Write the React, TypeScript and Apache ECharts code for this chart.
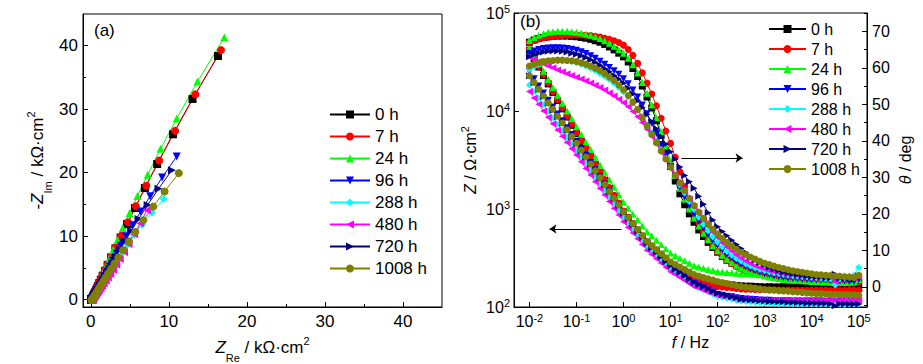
import React, { useEffect, useRef } from 'react';
import * as echarts from 'echarts';

// Frequencies (Hz), 10 points per decade
const FREQ = [
  0.01, 0.0126, 0.0158, 0.02, 0.0251, 0.0316, 0.0398, 0.0501, 0.0631, 0.0794,
  0.1, 0.126, 0.158, 0.2, 0.251, 0.316, 0.398, 0.501, 0.631, 0.794,
  1, 1.26, 1.58, 2, 2.51, 3.16, 3.98, 5.01, 6.31, 7.94,
  10, 12.6, 15.8, 20, 25.1, 31.6, 39.8, 50.1, 63.1, 79.4,
  100, 126, 158, 200, 251, 316, 398, 501, 631, 794,
  1000, 1260, 1580, 2000, 2510, 3160, 3980, 5010, 6310, 7940,
  10000, 12600, 15800, 20000, 25100, 31600, 39800, 50100, 63100, 79400,
  100000,
];

// |Z| in Ohm·cm2
const MOD_0H = [
  41700, 34200, 28100, 23000, 18900, 15500, 12800, 10500, 8670, 7140,
  5890, 4900, 4070, 3390, 2820, 2340, 1950, 1620, 1350, 1120,
  933, 809, 702, 608, 527, 457, 411, 370, 333, 299,
  269, 254, 239, 225, 212, 200, 194, 189, 184, 179,
  174, 172, 170, 168, 166, 164, 163, 163, 162, 161,
  160, 161, 160, 160, 161, 160, 159, 160, 160, 159,
  159, 158, 158, 157, 157, 157, 156, 156, 155, 155,
  155,
];
const MOD_7H = [
  42700, 35000, 28700, 23600, 19300, 15800, 13100, 10800, 8870, 7310,
  6030, 5010, 4170, 3470, 2880, 2400, 2000, 1660, 1380, 1150,
  955, 824, 711, 614, 530, 457, 409, 366, 328, 294,
  263, 247, 231, 217, 203, 191, 185, 179, 173, 167,
  162, 160, 158, 157, 155, 153, 152, 152, 151, 150,
  150, 149, 149, 149, 148, 149, 148, 148, 148, 148,
  148, 148, 148, 148, 147, 148, 148, 147, 148, 148,
  148,
];
const MOD_24H = [
  44700, 37000, 30600, 25400, 21000, 17400, 14500, 12000, 10000, 8320,
  6920, 5780, 4830, 4040, 3370, 2820, 2370, 1990, 1670, 1400,
  1170, 1020, 891, 776, 676, 589, 532, 481, 435, 393,
  355, 334, 315, 296, 279, 263, 256, 249, 242, 236,
  229, 227, 225, 223, 221, 219, 218, 217, 216, 215,
  214, 213, 213, 212, 212, 211, 211, 210, 210, 209,
  209, 209, 209, 209, 208, 209, 209, 208, 209, 209,
  209,
];
const MOD_96H = [
  25100, 21300, 18000, 15300, 12900, 11000, 9330, 7940, 6760, 5750,
  4900, 4150, 3520, 2980, 2520, 2140, 1800, 1520, 1280, 1080,
  912, 787, 679, 586, 506, 437, 391, 350, 313, 281,
  251, 233, 217, 201, 187, 174, 165, 157, 149, 142,
  135, 132, 129, 127, 124, 122, 121, 120, 119, 118,
  117, 117, 116, 116, 116, 116, 115, 115, 115, 115,
  115, 115, 115, 114, 115, 113, 115, 114, 115, 115,
  115,
];
const MOD_288H = [
  18400, 15800, 13500, 11600, 9930, 8510, 7310, 6280, 5400, 4630,
  3980, 3400, 2910, 2490, 2130, 1820, 1560, 1330, 1140, 973,
  832, 724, 631, 550, 479, 417, 375, 337, 303, 273,
  245, 227, 210, 194, 179, 166, 158, 150, 143, 136,
  129, 126, 123, 120, 117, 115, 114, 113, 112, 111,
  110, 109, 109, 108, 108, 108, 107, 107, 107, 107,
  107, 107, 107, 107, 106, 107, 107, 106, 107, 107,
  108,
];
const MOD_480H = [
  15800, 13600, 11700, 10000, 8630, 7410, 6400, 5520, 4760, 4110,
  3550, 3030, 2590, 2220, 1900, 1620, 1390, 1190, 1010, 867,
  741, 649, 568, 497, 435, 380, 344, 310, 281, 254,
  229, 214, 200, 186, 174, 162, 156, 149, 143, 137,
  132, 129, 127, 125, 122, 120, 120, 119, 119, 118,
  117, 117, 117, 118, 117, 117, 118, 117, 117, 117,
  117, 117, 117, 118, 117, 116, 117, 118, 117, 117,
  117,
];
const MOD_720H = [
  22900, 19500, 16600, 14100, 12000, 10200, 8750, 7480, 6400, 5470,
  4680, 3980, 3390, 2880, 2450, 2090, 1770, 1500, 1270, 1080,
  912, 791, 685, 594, 515, 447, 402, 361, 325, 292,
  263, 243, 225, 208, 192, 178, 169, 161, 153, 145,
  138, 134, 131, 127, 124, 120, 119, 118, 117, 116,
  115, 114, 114, 113, 113, 112, 112, 111, 111, 110,
  110, 110, 109, 109, 108, 103, 108, 108, 107, 107,
  107,
];
const MOD_1008H = [
  22900, 19500, 16700, 14200, 12100, 10400, 8830, 7530, 6430, 5480,
  4680, 3980, 3390, 2880, 2450, 2090, 1780, 1510, 1290, 1100,
  933, 813, 708, 617, 537, 468, 425, 385, 350, 318,
  288, 272, 256, 241, 227, 214, 207, 200, 194, 188,
  182, 178, 174, 170, 166, 162, 160, 158, 156, 153,
  151, 150, 149, 147, 146, 145, 143, 142, 141, 139,
  138, 137, 137, 136, 135, 135, 134, 134, 133, 133,
  132,
];

// Phase angle theta (deg)
const PHASE_0H = [
  67, 67.6, 68, 68.3, 68.5, 68.6, 68.7, 68.7, 68.7, 68.6,
  68.5, 68.3, 68.1, 67.8, 67.4, 67, 66.4, 65.7, 64.9, 64,
  63, 61.6, 59.8, 57.6, 55, 52, 49, 45.5, 41.5, 37.3,
  33, 29, 25.5, 22.5, 20, 17.7, 15.6, 13.8, 12.2, 10.8,
  9.5, 8.3, 7.3, 6.5, 5.8, 5.2, 4.7, 4.3, 3.9, 3.6,
  3.3, 3.0, 2.8, 2.6, 2.4, 2.2, 2.0, 1.9, 1.8, 1.7,
  1.6, 1.5, 1.4, 1.3, 1.2, 1.3, 1.1, 1.0, 1.0, 0.9,
  1.2,
];
const PHASE_7H = [
  67, 67.5, 67.9, 68.2, 68.4, 68.6, 68.7, 68.8, 68.9, 69,
  69, 69, 68.9, 68.8, 68.6, 68.4, 68.1, 67.8, 67.4, 66.9,
  66.2, 65, 63.4, 61.2, 58.6, 55.8, 52.8, 49.6, 46.2, 42.7,
  39.3, 35.5, 31.5, 27.5, 23.8, 20.5, 17.6, 15.1, 13, 11.2,
  9.7, 8.4, 7.3, 6.4, 5.7, 5.1, 4.6, 4.1, 3.7, 3.4,
  3.1, 2.8, 2.6, 2.4, 2.2, 2.0, 1.9, 1.8, 1.7, 1.6,
  1.5, 1.4, 1.3, 1.3, 1.2, 1.4, 1.1, 1.0, 1.0, 1.0,
  1.3,
];
const PHASE_24H = [
  67.5, 68.3, 68.9, 69.4, 69.7, 69.9, 70, 70, 70, 69.9,
  69.7, 69.5, 69.2, 68.9, 68.5, 68, 67.4, 66.7, 65.9, 65,
  64, 62.6, 60.8, 58.6, 56, 53, 49.8, 46.3, 42.5, 38.5,
  34.5, 30.5, 27, 24, 21.3, 18.9, 16.7, 14.7, 12.9, 11.3,
  9.9, 8.7, 7.6, 6.7, 5.9, 5.2, 4.6, 4.1, 3.7, 3.3,
  3.0, 2.7, 2.5, 2.3, 2.1, 2.0, 1.9, 1.8, 1.7, 1.6,
  1.5, 1.5, 1.4, 1.4, 1.3, 1.5, 1.3, 1.2, 1.3, 1.4,
  2.0,
];
const PHASE_96H = [
  64, 64.6, 65, 65.3, 65.4, 65.5, 65.5, 65.4, 65.3, 65.1,
  64.8, 64.4, 63.9, 63.3, 62.6, 61.8, 61, 60.1, 59.2, 58.2,
  57, 55.6, 53.9, 52, 49.8, 47.4, 44.8, 42, 39, 36,
  33, 30, 27.2, 24.6, 22.2, 20, 18, 16.1, 14.4, 12.8,
  11.4, 10.1, 8.9, 7.9, 7, 6.2, 5.5, 4.9, 4.4, 4,
  3.6, 3.3, 3.0, 2.8, 2.6, 2.4, 2.3, 2.2, 2.1, 2.0,
  1.9, 1.9, 1.8, 1.8, 1.7, 2.5, 1.6, 1.6, 1.5, 1.5,
  2.0,
];
const PHASE_288H = [
  59.5, 60.3, 60.9, 61.4, 61.7, 61.9, 62, 62, 61.9, 61.7,
  61.4, 61, 60.5, 59.9, 59.2, 58.4, 57.6, 56.7, 55.7, 54.6,
  53.4, 52, 50.4, 48.6, 46.6, 44.5, 42.3, 40, 37.6, 35.2,
  32.8, 30.4, 28, 25.7, 23.4, 21.2, 19.1, 17.1, 15.3, 13.7,
  12.2, 10.9, 9.7, 8.7, 7.8, 7, 6.3, 5.7, 5.2, 4.8,
  4.4, 4.1, 3.8, 3.6, 3.4, 3.2, 3.0, 2.9, 2.8, 2.7,
  2.6, 2.5, 2.4, 2.3, 2.2, 0.5, 2.2, 2.3, 2.6, 3.2,
  5.3,
];
const PHASE_480H = [
  63, 62.3, 61.7, 61.1, 60.5, 60, 59.4, 58.9, 58.4, 57.9,
  57.4, 56.9, 56.4, 55.8, 55.2, 54.6, 53.9, 53.1, 52.3, 51.4,
  50.4, 49.3, 48, 46.6, 45, 43.2, 41.2, 39.1, 36.9, 34.7,
  32.5, 30.3, 28.1, 26, 24, 22, 20.1, 18.3, 16.6, 15,
  13.5, 12.1, 10.9, 9.8, 8.8, 7.9, 7.1, 6.4, 5.8, 5.3,
  4.9, 4.5, 4.2, 3.9, 3.7, 3.5, 3.3, 3.2, 3.1, 3.0,
  2.9, 2.8, 2.8, 2.7, 2.7, 1.5, 2.6, 2.6, 2.5, 2.5,
  2.8,
];
const PHASE_720H = [
  63, 63.6, 64, 64.3, 64.5, 64.6, 64.6, 64.5, 64.3, 64,
  63.7, 63.3, 62.8, 62.2, 61.5, 60.7, 59.8, 58.9, 57.9, 56.9,
  55.8, 54.4, 52.8, 51, 49.1, 47.2, 45.3, 43.3, 41.2, 39.1,
  37, 35, 32.8, 30.5, 28.8, 27, 24.8, 22.6, 20.3, 18.3,
  16.5, 15.2, 14, 12.8, 11.6, 10.5, 9.4, 8.4, 7.5, 6.7,
  6.0, 5.4, 4.9, 4.5, 4.1, 3.8, 3.6, 3.4, 3.2, 3.0,
  2.9, 2.8, 2.7, 2.6, 2.5, 3.5, 2.4, 2.3, 2.3, 2.2,
  3.0,
];
const PHASE_1008H = [
  60.5, 61, 61.4, 61.7, 61.9, 62, 62.1, 62.1, 62, 61.9,
  61.7, 61.4, 61, 60.5, 59.9, 59.2, 58.4, 57.5, 56.5, 55.3,
  54, 52.4, 50.6, 48.6, 46.4, 44.1, 41.8, 39.5, 37.2, 35,
  32.8, 30.6, 28.5, 26.4, 24.3, 22.3, 20.5, 18.8, 17.2, 15.8,
  14.5, 13.3, 12.2, 11.2, 10.3, 9.5, 8.8, 8.2, 7.6, 7.0,
  6.5, 6.1, 5.7, 5.3, 5.0, 4.7, 4.4, 4.2, 4.0, 3.8,
  3.6, 3.4, 3.3, 3.2, 3.1, 3.0, 2.9, 2.8, 2.7, 2.6,
  3.2,
];

const SERIES_NAMES = ['0 h', '7 h', '24 h', '96 h', '288 h', '480 h', '720 h', '1008 h'];
const MODULUS = [MOD_0H, MOD_7H, MOD_24H, MOD_96H, MOD_288H, MOD_480H, MOD_720H, MOD_1008H];
const PHASE = [PHASE_0H, PHASE_7H, PHASE_24H, PHASE_96H, PHASE_288H, PHASE_480H, PHASE_720H, PHASE_1008H];

const NYQ_TICKS = [0, 10, 20, 30, 40];
const NYQ_MINOR_TICKS = [5, 15, 25, 35];
const PHASE_TICKS = [0, 10, 20, 30, 40, 50, 60, 70];
const PHASE_MINOR_TICKS = [-5, 5, 15, 25, 35, 45, 55, 65, 75];

// Arrow annotations (data coordinates)
const ARROW_PHASE = { fromF: 17.1, toF: 340, theta: 35.3 };
const ARROW_MOD = { fromF: 0.906, toF: 0.0267, z: 625 };

const COLORS = ['#000000', '#ff0000', '#00ff00', '#0000ff', '#00ffff', '#ff00ff', '#000080', '#808000'];
const SYMBOLS = ['rect', 'circle', 'triangle', 'triangle', 'diamond', 'triangle', 'triangle', 'circle'];
const ROTATIONS = [0, 0, 0, 180, 0, 90, -90, 0];

const FONT = '"Liberation Sans", Arial, sans-serif';

function decadeLabel(v: number): string {
  const lg = Math.log10(v);
  const e = Math.round(lg);
  if (Math.abs(lg - e) > 0.02) return '';
  return '10{sup|' + (e < 0 ? '-' + Math.abs(e) : String(e)) + '}';
}

const tickRich = {
  sup: { fontSize: 11, fontFamily: FONT, color: '#000', verticalAlign: 'top', padding: [0, 0, 8, 0] },
};

const nameRichSubSup = {
  i: { fontSize: 17, fontFamily: FONT, fontStyle: 'italic', color: '#000' },
  sub: { fontSize: 11, fontFamily: FONT, color: '#000', verticalAlign: 'bottom', padding: [20, 0, 0, 0] },
  sup: { fontSize: 11, fontFamily: FONT, color: '#000', verticalAlign: 'top', padding: [3, 0, 0, 0] },
};
const nameRichSup = {
  i: { fontSize: 16, fontFamily: FONT, fontStyle: 'italic', color: '#000' },
  sup: { fontSize: 11, fontFamily: FONT, color: '#000', verticalAlign: 'top', padding: [0, 0, 12, 0] },
};

function makeSeries(name: string, k: number, xAxisIndex: number, yAxisIndex: number, data: number[][], size: number) {
  return {
    name,
    type: 'line',
    xAxisIndex,
    yAxisIndex,
    symbol: SYMBOLS[k],
    symbolSize: size,
    symbolRotate: ROTATIONS[k],
    showAllSymbol: true,
    color: COLORS[k],
    lineStyle: { color: COLORS[k], width: 1 },
    itemStyle: { color: COLORS[k] },
    silent: true,
    data,
  } as any;
}

function arrowMarkLine(from: number[], to: number[]) {
  return {
    silent: true,
    symbol: ['none', 'arrow'],
    symbolSize: 7,
    label: { show: false },
    lineStyle: { color: '#000', width: 1, type: 'solid' },
    data: [[{ coord: from }, { coord: to }]],
  };
}

function buildOption() {
  const black = { color: '#000', width: 1 };
  const series: any[] = [];

  // Nyquist: Z' = |Z|cos(theta), -Z'' = |Z|sin(theta), in kOhm·cm2
  SERIES_NAMES.forEach((name, k) => {
    const data = FREQ.map((_, i) => {
      const th = (PHASE[k][i] * Math.PI) / 180;
      return [(MODULUS[k][i] * Math.cos(th)) / 1000, (MODULUS[k][i] * Math.sin(th)) / 1000];
    });
    series.push(makeSeries(name, k, 0, 0, data, 8));
  });

  // Bode modulus
  SERIES_NAMES.forEach((name, k) => {
    const s = makeSeries(name, k, 1, 1, FREQ.map((f, i) => [f, MODULUS[k][i]]), 7);
    if (k === 0) s.markLine = arrowMarkLine([ARROW_MOD.fromF, ARROW_MOD.z], [ARROW_MOD.toF, ARROW_MOD.z]);
    series.push(s);
  });

  // Bode phase
  SERIES_NAMES.forEach((name, k) => {
    const s = makeSeries(name, k, 1, 2, FREQ.map((f, i) => [f, PHASE[k][i]]), 7);
    if (k === 0) s.markLine = arrowMarkLine([ARROW_PHASE.fromF, ARROW_PHASE.theta], [ARROW_PHASE.toF, ARROW_PHASE.theta]);
    series.push(s);
  });

  const gridA = { left: 83, top: 14, width: 359, height: 293 };
  const gridB = { left: 514, top: 13, width: 353, height: 294 };
  const axisLine = { show: true, onZero: false, lineStyle: black };

  return {
    animation: false,
    backgroundColor: '#ffffff',
    textStyle: { fontFamily: FONT },
    grid: [
      { ...gridA, show: true, borderColor: '#000', borderWidth: 1, backgroundColor: 'transparent', containLabel: false, outerBoundsMode: 'none' },
      { ...gridB, show: true, borderColor: '#000', borderWidth: 1, backgroundColor: 'transparent', containLabel: false, outerBoundsMode: 'none' },
      { ...gridA, show: false, containLabel: false, outerBoundsMode: 'none' },
      { ...gridB, show: false, containLabel: false, outerBoundsMode: 'none' },
    ],
    legend: [
      {
        data: SERIES_NAMES,
        orient: 'vertical',
        left: 324,
        top: 101,
        itemWidth: 40,
        itemHeight: 10,
        itemGap: 5,
        selectedMode: false,
        textStyle: { fontSize: 17, fontFamily: FONT, color: '#000' },
      },
      {
        data: SERIES_NAMES,
        orient: 'vertical',
        left: 763,
        top: 16,
        itemWidth: 37,
        itemHeight: 10,
        itemGap: 4,
        selectedMode: false,
        textStyle: { fontSize: 16, fontFamily: FONT, color: '#000' },
      },
    ],
    xAxis: [
      {
        gridIndex: 0,
        type: 'value',
        min: -1,
        max: 45,
        position: 'bottom',
        axisLine,
        axisTick: { show: true, inside: true, length: 5, customValues: NYQ_TICKS, lineStyle: black },
        axisLabel: { customValues: NYQ_TICKS, color: '#000', fontSize: 17, fontFamily: FONT, margin: 6 },
        splitLine: { show: false },
        name: '{i|Z}{sub|Re} / kΩ·cm{sup|2}',
        nameLocation: 'middle',
        nameGap: 25,
        nameTextStyle: { fontSize: 17, fontFamily: FONT, color: '#000', rich: nameRichSubSup },
      },
      {
        gridIndex: 1,
        type: 'log',
        logBase: 10,
        min: 0.0047,
        max: 150000,
        position: 'bottom',
        axisLine,
        axisTick: { show: true, inside: true, length: 5, lineStyle: black },
        axisLabel: { formatter: decadeLabel, color: '#000', fontSize: 16, fontFamily: FONT, margin: 5, rich: tickRich },
        splitLine: { show: false },
        minorTick: { show: false },
        name: '{i|f} / Hz',
        nameLocation: 'middle',
        nameGap: 27,
        nameTextStyle: { fontSize: 16, fontFamily: FONT, color: '#000', rich: nameRichSup },
      },
      {
        gridIndex: 2,
        type: 'value',
        min: -1,
        max: 45,
        axisLine: { show: false, onZero: false },
        axisTick: { show: true, inside: true, length: 3, customValues: NYQ_MINOR_TICKS, lineStyle: black },
        axisLabel: { show: false },
        splitLine: { show: false },
      },
      {
        gridIndex: 3,
        type: 'value',
        min: 0,
        max: 1,
        show: false,
      },
    ],
    yAxis: [
      {
        gridIndex: 0,
        type: 'value',
        min: -1.15,
        max: 45,
        position: 'left',
        axisLine,
        axisTick: { show: true, inside: true, length: 5, customValues: NYQ_TICKS, lineStyle: black },
        axisLabel: { customValues: NYQ_TICKS, color: '#000', fontSize: 17, fontFamily: FONT, margin: 5 },
        splitLine: { show: false },
        name: '-{i|Z}{sub|Im} / kΩ·cm{sup|2}',
        nameLocation: 'middle',
        nameRotate: 90,
        nameGap: 30,
        nameTextStyle: { fontSize: 17, fontFamily: FONT, color: '#000', rich: nameRichSubSup },
      },
      {
        gridIndex: 1,
        type: 'log',
        logBase: 10,
        min: 100,
        max: 100000,
        position: 'left',
        axisLine,
        axisTick: { show: true, inside: true, length: 5, lineStyle: black },
        axisLabel: { formatter: decadeLabel, color: '#000', fontSize: 16, fontFamily: FONT, margin: 4, rich: tickRich },
        splitLine: { show: false },
        minorTick: { show: false },
        name: '{i|Z} / Ω·cm{sup|2}',
        nameLocation: 'middle',
        nameRotate: 90,
        nameGap: 32,
        nameTextStyle: { fontSize: 16, fontFamily: FONT, color: '#000', rich: nameRichSup },
      },
      {
        gridIndex: 1,
        type: 'value',
        min: -5.5,
        max: 75,
        position: 'right',
        axisLine,
        axisTick: { show: true, inside: true, length: 5, customValues: PHASE_TICKS, lineStyle: black },
        axisLabel: { customValues: PHASE_TICKS, color: '#000', fontSize: 16, fontFamily: FONT, margin: 5 },
        splitLine: { show: false },
        name: '{i|θ} / deg',
        nameLocation: 'middle',
        nameRotate: 90,
        nameGap: 30,
        nameTextStyle: { fontSize: 16, fontFamily: FONT, color: '#000', rich: nameRichSup },
      },
      {
        gridIndex: 2,
        type: 'value',
        min: -1.15,
        max: 45,
        position: 'left',
        axisLine: { show: false, onZero: false },
        axisTick: { show: true, inside: true, length: 3, customValues: NYQ_MINOR_TICKS, lineStyle: black },
        axisLabel: { show: false },
        splitLine: { show: false },
      },
      {
        gridIndex: 3,
        type: 'value',
        min: -5.5,
        max: 75,
        position: 'right',
        axisLine: { show: false, onZero: false },
        axisTick: { show: true, inside: true, length: 3, customValues: PHASE_MINOR_TICKS, lineStyle: black },
        axisLabel: { show: false },
        splitLine: { show: false },
      },
    ],
    graphic: [
      { type: 'text', left: 94, top: 22, style: { text: '(a)', fontSize: 17, fontFamily: FONT, fill: '#000' } },
      { type: 'text', left: 520, top: 13, style: { text: '(b)', fontSize: 17, fontFamily: FONT, fill: '#000' } },
    ],
    series,
  };
}

export default function App() {
  const ref = useRef<HTMLDivElement>(null);
  useEffect(() => {
    if (!ref.current) return;
    const chart = echarts.init(ref.current, null, { renderer: 'svg' });
    chart.setOption(buildOption() as any);
    return () => chart.dispose();
  }, []);
  return (
    <div
      ref={ref}
      style={{ position: 'fixed', left: 0, top: 0, width: 923, height: 364, background: '#ffffff' }}
    />
  );
}
